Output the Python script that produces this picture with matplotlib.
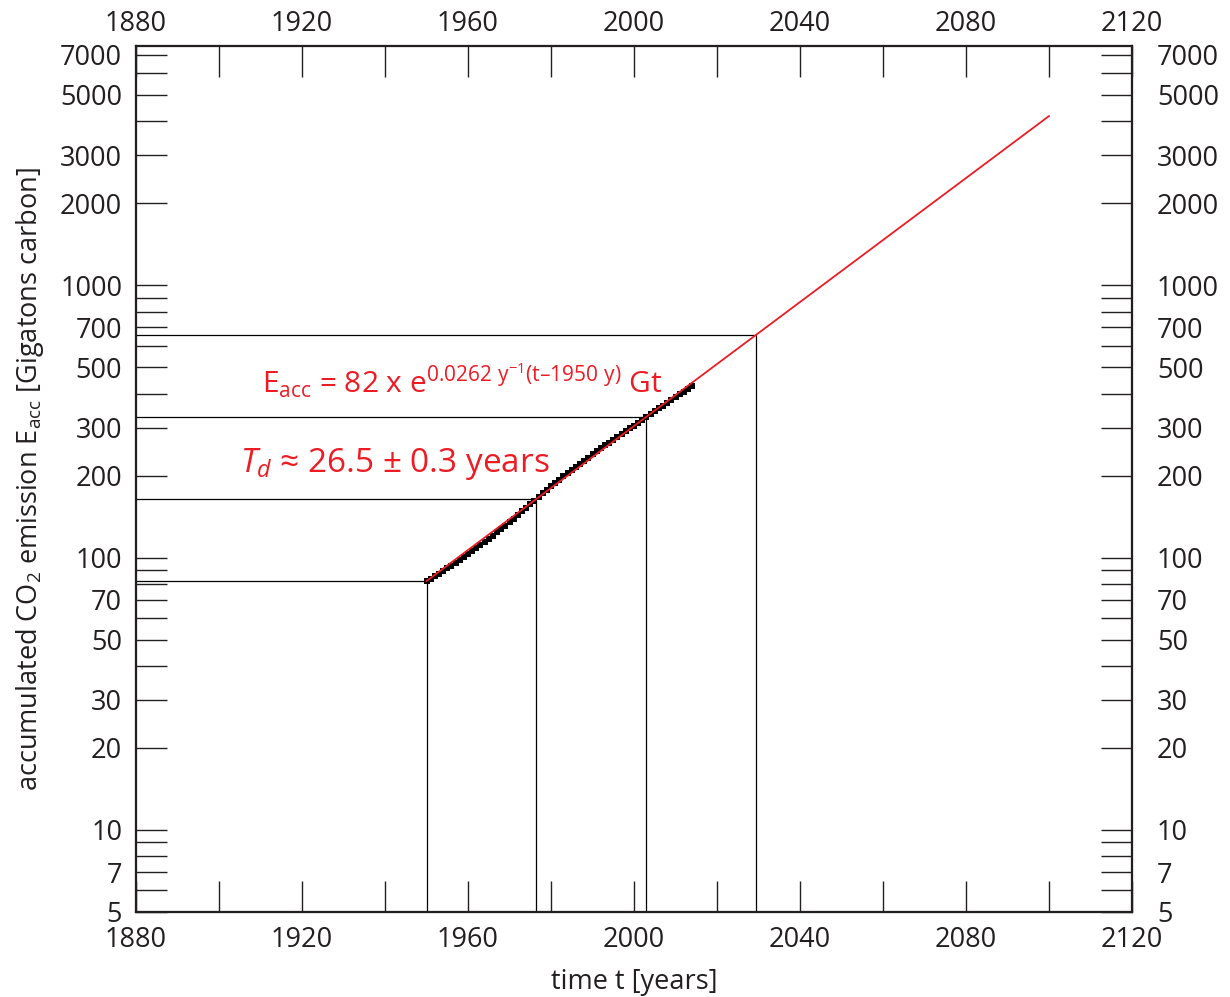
import numpy as np
import matplotlib
matplotlib.use("Agg")
import matplotlib.pyplot as plt
from matplotlib.ticker import NullFormatter

plt.rcParams['font.family'] = ['Open Sans', 'DejaVu Sans']
plt.rcParams['mathtext.fontset'] = 'custom'
plt.rcParams['mathtext.rm'] = 'Open Sans'
plt.rcParams['mathtext.it'] = 'Open Sans:italic'

# accumulated CO2 emission (Gt carbon)
years = np.arange(1950, 2015)
emission = [82.0, 83.7, 85.5, 87.3, 89.2, 91.2, 93.3, 95.5, 97.8, 100.2,
            102.8, 105.4, 108.1, 111.0, 114.0, 117.1, 120.4, 123.7, 127.2, 130.9,
            134.9, 139.0, 143.3, 147.9, 152.4, 157.0, 161.9, 166.9, 172.1, 177.6,
            182.9, 188.1, 193.2, 198.4, 203.8, 209.3, 215.0, 220.8, 226.8, 232.9,
            239.1, 245.4, 251.6, 257.8, 264.1, 270.6, 277.2, 284.0, 290.9, 297.9,
            305.0, 312.5, 320.0, 328.0, 336.0, 344.5, 353.0, 361.5, 370.0, 378.5,
            387.5, 397.0, 406.5, 416.0, 426.0]

# exponential fit shown in the chart
fit_e0 = 82
fit_rate = 0.0262
fit_t0 = 1950
fit_end = 2100

# doubling guide lines
doubling_years = [1950, 1976.5, 2003, 2029.5]
doubling_values = [82, 164, 328, 656]

xlim = (1880, 2120)
ylim = (5, 7550)
xticks = [1880, 1900, 1920, 1940, 1960, 1980, 2000, 2020, 2040, 2060, 2080, 2100, 2120]
xtick_labels = ['1880', '', '1920', '', '1960', '', '2000', '', '2040', '', '2080', '', '2120']
yticks_major = [5, 7, 10, 20, 30, 50, 70, 100, 200, 300, 500, 700, 1000, 2000, 3000, 5000, 7000]
yticks_minor = [6, 8, 9, 40, 60, 80, 90, 400, 600, 800, 900, 4000, 6000]

red = '#ed1c24'
ink = '#231f20'

fig = plt.figure(figsize=(12.3, 9.97), dpi=100)
ax = fig.add_axes([0.1106, 0.0853, 0.8097, 0.8686])
ax.set_yscale('log')

t_fit = np.linspace(fit_t0, fit_end, 301)
ax.plot(t_fit, fit_e0 * np.exp(fit_rate * (t_fit - fit_t0)), color=red, lw=1.3, zorder=4)
ax.plot(years, emission, 's', color='black', ms=4.0, mew=0, zorder=3)

for yr, v in zip(doubling_years, doubling_values):
    ax.hlines(v, xlim[0], yr, color='black', lw=0.9, zorder=2)
    ax.vlines(yr, ylim[0], v, color='black', lw=0.9, zorder=2)

ax.set_xlim(*xlim)
ax.set_ylim(*ylim)

# right-hand value labels
ax2 = ax.twinx()
ax2.set_yscale('log')
ax2.set_ylim(*ylim)
ax2.set_yticks(yticks_major, labels=[str(v) for v in yticks_major])
ax2.set_yticks(yticks_minor, minor=True)
ax2.yaxis.set_minor_formatter(NullFormatter())
ax2.tick_params(axis='y', which='both', direction='in', length=0,
                labelsize=19.5, labelcolor=ink, pad=18)

# top year labels
ax3 = ax.twiny()
ax3.set_xlim(*xlim)
ax3.set_xticks(xticks, labels=xtick_labels)
ax3.xaxis.set_minor_locator(plt.NullLocator())
ax3.tick_params(axis='x', direction='in', length=0, labelsize=19.5,
                labelcolor=ink, pad=6)

ax.set_xticks(xticks, labels=xtick_labels)
ax.set_yticks(yticks_major, labels=[str(v) for v in yticks_major])
ax.set_yticks(yticks_minor, minor=True)
ax.yaxis.set_minor_formatter(NullFormatter())
ax.xaxis.set_minor_locator(plt.NullLocator())

ax.tick_params(axis='both', which='both', direction='in', length=22, width=1.0,
               colors=ink, labelsize=19.5, labelcolor=ink)
ax.tick_params(axis='x', bottom=True, top=True, labelbottom=True, labeltop=False, pad=10)
ax.tick_params(axis='y', which='both', left=True, right=True,
               labelleft=True, labelright=False, pad=10)

for a in (ax, ax2, ax3):
    for s in a.spines.values():
        s.set_linewidth(1.5)
        s.set_color(ink)

ax.set_xlabel('time t [years]', fontsize=19.5, color=ink, labelpad=10)
ax.set_ylabel(r'accumulated CO$_\mathregular{2}$ emission E$_\mathregular{acc}$ [Gigatons carbon]',
              fontsize=19.5, color=ink, labelpad=10)

ax.text(1910.4, 401,
        r'E$_\mathregular{acc}$ = 82 x e$^{\mathregular{0.0262\ y^{-1}(t–1950\ y)}}$ Gt',
        color=red, fontsize=21.5, va='baseline', ha='left')
ax.text(1905, 206, r'$T_d$ ≈ 26.5 ± 0.3 years', color=red, fontsize=24,
        va='baseline', ha='left')

fig.savefig('out.png', dpi=100, facecolor='white')
